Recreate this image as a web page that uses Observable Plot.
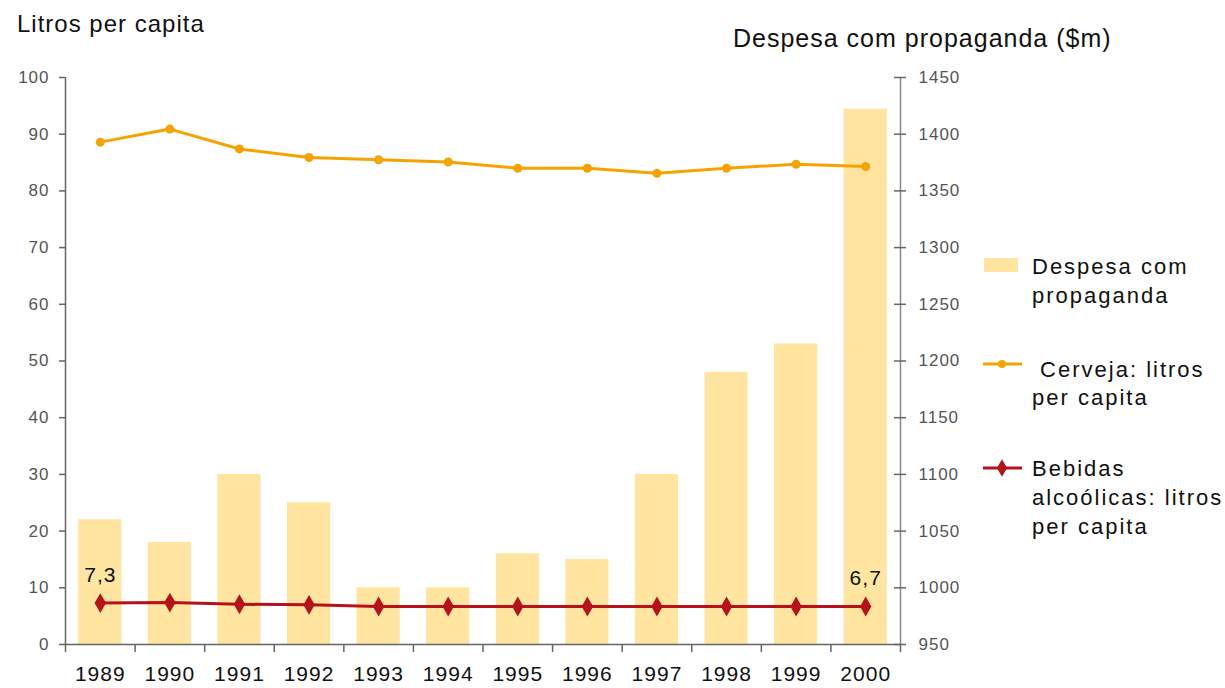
<!DOCTYPE html>
<html><head><meta charset="utf-8">
<script src="https://cdn.jsdelivr.net/npm/d3@7"></script>
<script src="https://cdn.jsdelivr.net/npm/@observablehq/plot@0.6"></script>
<style>
html,body{margin:0;padding:0;background:#fff;}
#chart{width:1225px;height:688px;}
#chart svg text{font-family:"Liberation Sans",Arial,Helvetica,sans-serif;letter-spacing:1px;}
</style></head><body><div id="chart"></div>
<script>
const years = ["1989","1990","1991","1992","1993","1994","1995","1996","1997","1998","1999","2000"];
const despesa = [1060,1040,1100,1075,1000,1000,1030,1025,1100,1190,1215,1422];
const cerveja = [88.6,90.9,87.4,85.9,85.5,85.1,84.0,84.0,83.1,84.0,84.7,84.3];
const bebidas = [7.3,7.4,7.1,7.0,6.7,6.7,6.7,6.7,6.7,6.7,6.7,6.7];
const leftTicks = [0,10,20,30,40,50,60,70,80,90,100];
const rightTicks = [950,1000,1050,1100,1150,1200,1250,1300,1350,1400,1450];
const legendLabels = [["Despesa com","propaganda"],["\u00a0Cerveja: litros","per capita"],["Bebidas","alcoólicas: litros","per capita"]];

const barColor = "#FFE5A0", orange = "#F5A300", red = "#B5121B", axisColor = "#666", axisColor2 = "#888";
// right axis (950..1450) mapped onto the left scale (0..100)
const rMin = rightTicks[0], rMax = rightTicks[rightTicks.length-1];
const toLeft = v => (v - rMin) / (rMax - rMin) * 100;
const rows = years.map((y,i)=>({i, year:y, despesa:despesa[i], cerveja:cerveja[i], bebidas:bebidas[i]}));
const half = 0.31;

const plot = Plot.plot({
  width: 1225, height: 688,
  marginLeft: 65, marginRight: 325, marginTop: 77, marginBottom: 44,
  style: {fontFamily: "Liberation Sans, Arial, sans-serif", fontSize: "17px", background: "#fff"},
  x: {type: "linear", domain: [-0.5, 11.5], label: null},
  y: {domain: [0, 100], label: null},
  marks: [
    Plot.rectY(rows, {x1: d => d.i - half, x2: d => d.i + half, y1: () => 0, y2: d => toLeft(d.despesa), fill: barColor}),
    Plot.ruleY([0], {stroke: axisColor, strokeWidth: 1.5}),
    Plot.axisX({ticks: d3.range(-0.5, 12, 1), tickSize: 8, tickFormat: () => "", label: null, stroke: axisColor, strokeWidth: 1.5}),
    Plot.axisX({ticks: d3.range(0, 12), tickSize: 0, tickPadding: 22, tickFormat: i => years[i], label: null, fontSize: 21, fill: "#111"}),
    Plot.axisY({ticks: leftTicks, tickSize: 6, tickPadding: 10, label: null, stroke: axisColor, strokeWidth: 1.5, fill: "#555", tickFormat: d => String(d)}),
    Plot.ruleX([-0.5], {y1: () => 0, y2: () => 100, stroke: axisColor, strokeWidth: 1.5}),
    Plot.ruleX([11.5], {y1: () => 0, y2: () => 100, stroke: axisColor2, strokeWidth: 1.5}),
    Plot.ruleY(leftTicks, {x1: () => 11.5, x2: () => 11.5, insetLeft: -6, insetRight: -6, stroke: axisColor, strokeWidth: 1.5}),
    Plot.axisY({anchor: "right", ticks: leftTicks, tickSize: 0, tickPadding: 18, label: null, fill: "#555",
      tickFormat: d => String(rightTicks[leftTicks.indexOf(d)])}),
    Plot.lineY(rows, {x: "i", y: "cerveja", stroke: orange, strokeWidth: 3}),
    Plot.dot(rows, {x: "i", y: "cerveja", r: 4.5, fill: orange}),
    Plot.lineY(rows, {x: "i", y: "bebidas", stroke: red, strokeWidth: 3}),
    Plot.dot(rows, {x: "i", y: "bebidas", symbol: "diamond", r: 6, fill: red}),
    Plot.text([rows[0], rows[rows.length-1]], {x: "i", y: "bebidas", text: d => String(d.bebidas).replace(".", ","), dy: -28, fontSize: 21, fill: "#111"})
  ]
});

const svg = d3.select(plot);
const g = svg.append("g").attr("fill", "#111").attr("text-anchor", "start");
g.append("text").attr("x", 17).attr("y", 32).attr("font-size", 24).text("Litros per capita");
g.append("text").attr("x", 733).attr("y", 47).attr("font-size", 25).text("Despesa com propaganda ($m)");

// legend
const lg = svg.append("g").attr("font-size", 22).attr("fill", "#111").attr("text-anchor", "start");
lg.append("rect").attr("x", 984).attr("y", 258).attr("width", 34).attr("height", 14).attr("fill", barColor);
lg.append("line").attr("x1", 983).attr("x2", 1022).attr("y1", 364).attr("y2", 364).attr("stroke", orange).attr("stroke-width", 3);
lg.append("circle").attr("cx", 1002).attr("cy", 364).attr("r", 4).attr("fill", orange);
lg.append("line").attr("x1", 983).attr("x2", 1022).attr("y1", 468).attr("y2", 468).attr("stroke", red).attr("stroke-width", 3);
lg.append("path").attr("d", d3.symbol(d3.symbolDiamond, 90)()).attr("transform", "translate(1002,468)").attr("fill", red);
const baselines = [[274, 303], [377, 405], [476, 505, 534]];
legendLabels.forEach((lines, k) => {
  lines.forEach((t, j) => {
    lg.append("text").attr("x", 1032).attr("y", baselines[k][j]).style("letter-spacing", "2px").text(t);
  });
});

document.getElementById("chart").appendChild(plot);
</script></body></html>
